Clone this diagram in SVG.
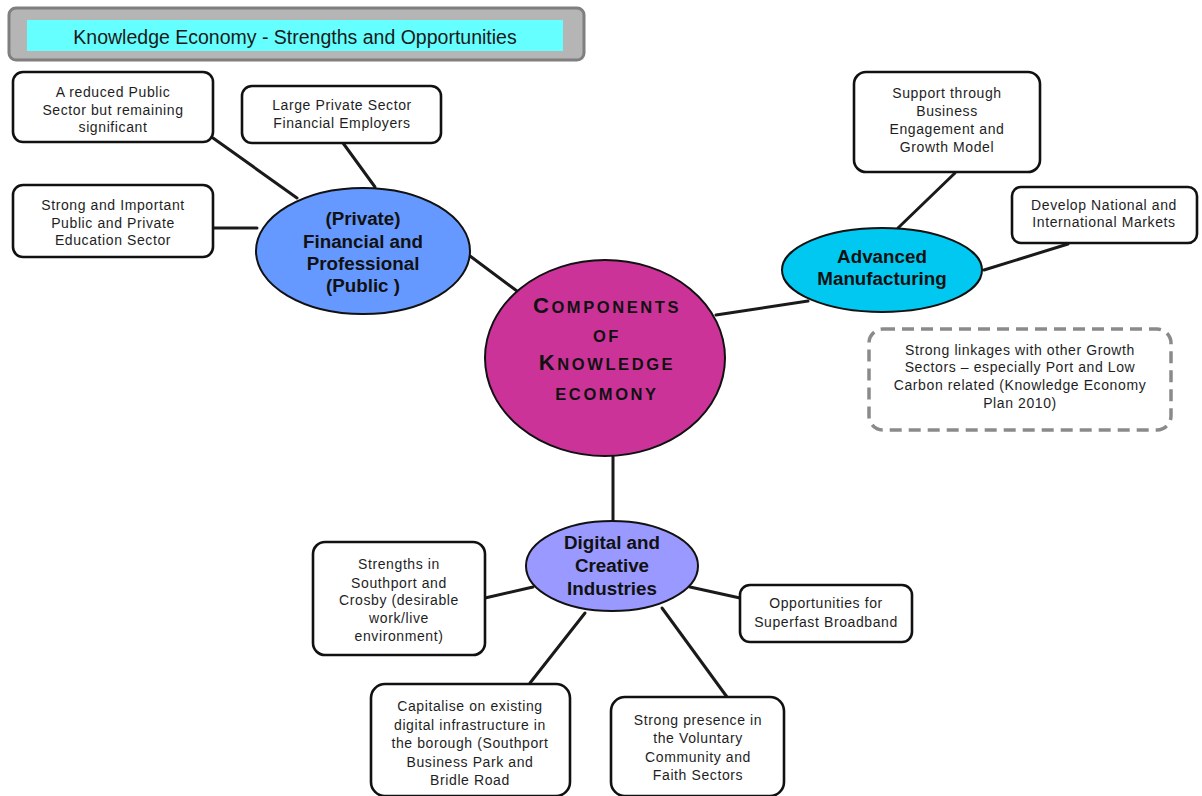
<svg xmlns="http://www.w3.org/2000/svg" width="1202" height="796" viewBox="0 0 1202 796">
  <style>
    .box { fill: #ffffff; stroke: #111111; stroke-width: 2.6; }
    .note { fill: #ffffff; stroke: #8a8a8a; stroke-width: 3.5; stroke-dasharray: 12 7; }
    .hub { stroke: #111111; stroke-width: 2; }
    .link { stroke: #1a1a1a; stroke-width: 3; fill: none; stroke-linecap: round; }
    .t { font-family: "Liberation Sans", Arial, sans-serif; font-size: 14px; letter-spacing: 0.6px; fill: #1e1e1e; text-anchor: middle; }
    .h { font-family: "Liberation Sans", Arial, sans-serif; font-size: 18.8px; font-weight: bold; fill: #111111; text-anchor: middle; }
    .c { font-family: "Liberation Sans", Arial, sans-serif; font-size: 16.5px; font-weight: bold; letter-spacing: 2.6px; fill: #111111; text-anchor: middle; }
    .cap { font-size: 22px; }
  </style>

  <!-- heading bar -->
  <g id="title">
    <rect x="9" y="8" width="575" height="52" rx="7" fill="#b5b5b5" stroke="#7f7f7f" stroke-width="3"/>
    <rect x="27" y="20" width="536" height="31" fill="#66ffff"/>
    <text x="295" y="44" font-family="Liberation Sans, Arial, sans-serif" font-size="19.5" fill="#1a1a1a" text-anchor="middle">Knowledge Economy - Strengths and Opportunities</text>
  </g>

  <!-- connectors -->
  <g id="connectors">
    <line class="link" x1="213" y1="138" x2="297" y2="198"/>
    <line class="link" x1="343" y1="143" x2="375" y2="187"/>
    <line class="link" x1="213" y1="228" x2="257" y2="228"/>
    <line class="link" x1="470" y1="256" x2="517" y2="291"/>
    <line class="link" x1="716" y1="315" x2="808" y2="301"/>
    <line class="link" x1="955" y1="173" x2="898" y2="228"/>
    <line class="link" x1="1068" y1="244" x2="984" y2="270"/>
    <line class="link" x1="613" y1="456" x2="613" y2="522"/>
    <line class="link" x1="485" y1="598" x2="533" y2="587"/>
    <line class="link" x1="690" y1="587" x2="740" y2="598"/>
    <line class="link" x1="585" y1="613" x2="530" y2="683"/>
    <line class="link" x1="662" y1="608" x2="727" y2="697"/>
  </g>

  <!-- central hub -->
  <g id="components">
    <ellipse class="hub" cx="605" cy="358" rx="120" ry="98" fill="#cc3399"/>
    <text class="c" x="607" y="313"><tspan class="cap">C</tspan>OMPONENTS</text>
    <text class="c" x="607" y="342">OF</text>
    <text class="c" x="607" y="370"><tspan class="cap">K</tspan>NOWLEDGE</text>
    <text class="c" x="607" y="400">ECOMONY</text>
  </g>

  <!-- financial and professional cluster -->
  <g id="financial">
    <ellipse class="hub" cx="363" cy="251" rx="107" ry="63" fill="#6699ff"/>
    <text class="h" x="363" y="225">(Private)</text>
    <text class="h" x="363" y="248">Financial and</text>
    <text class="h" x="363" y="270">Professional</text>
    <text class="h" x="363" y="292">(Public )</text>
  </g>
  <g id="reduced-public">
    <rect class="box" x="13" y="72" width="200" height="70" rx="10"/>
    <text class="t" x="113" y="97">A reduced Public</text>
    <text class="t" x="113" y="115">Sector but remaining</text>
    <text class="t" x="113" y="132">significant</text>
  </g>
  <g id="private-employers">
    <rect class="box" x="242" y="86" width="199" height="57" rx="10"/>
    <text class="t" x="342" y="110">Large Private Sector</text>
    <text class="t" x="342" y="128">Financial Employers</text>
  </g>
  <g id="education">
    <rect class="box" x="13" y="185" width="200" height="72" rx="10"/>
    <text class="t" x="113" y="210">Strong and Important</text>
    <text class="t" x="113" y="228">Public and Private</text>
    <text class="t" x="113" y="245">Education Sector</text>
  </g>

  <!-- advanced manufacturing cluster -->
  <g id="manufacturing">
    <ellipse class="hub" cx="882" cy="270" rx="100" ry="42" fill="#00c8f0"/>
    <text class="h" x="882" y="263">Advanced</text>
    <text class="h" x="882" y="285">Manufacturing</text>
  </g>
  <g id="business-support">
    <rect class="box" x="854" y="72" width="186" height="100" rx="12"/>
    <text class="t" x="947" y="98">Support through</text>
    <text class="t" x="947" y="116">Business</text>
    <text class="t" x="947" y="134">Engagement and</text>
    <text class="t" x="947" y="152">Growth Model</text>
  </g>
  <g id="markets">
    <rect class="box" x="1012" y="187" width="185" height="56" rx="9"/>
    <text class="t" x="1104" y="210">Develop National and</text>
    <text class="t" x="1104" y="227">International Markets</text>
  </g>
  <g id="linkages">
    <rect class="note" x="869" y="329" width="302" height="101" rx="14"/>
    <text class="t" x="1020" y="355">Strong linkages with other Growth</text>
    <text class="t" x="1020" y="372">Sectors – especially Port and Low</text>
    <text class="t" x="1020" y="390">Carbon related (Knowledge Economy</text>
    <text class="t" x="1020" y="408">Plan 2010)</text>
  </g>

  <!-- digital and creative cluster -->
  <g id="digital">
    <ellipse class="hub" cx="612" cy="566" rx="86" ry="45" fill="#9999ff"/>
    <text class="h" x="612" y="549">Digital and</text>
    <text class="h" x="612" y="572">Creative</text>
    <text class="h" x="612" y="595">Industries</text>
  </g>
  <g id="southport-crosby">
    <rect class="box" x="313" y="542" width="172" height="113" rx="12"/>
    <text class="t" x="399" y="569">Strengths in</text>
    <text class="t" x="399" y="588">Southport and</text>
    <text class="t" x="399" y="605">Crosby (desirable</text>
    <text class="t" x="399" y="623">work/live</text>
    <text class="t" x="399" y="641">environment)</text>
  </g>
  <g id="broadband">
    <rect class="box" x="740" y="585" width="172" height="57" rx="10"/>
    <text class="t" x="826" y="608">Opportunities for</text>
    <text class="t" x="826" y="627">Superfast Broadband</text>
  </g>
  <g id="infrastructure">
    <rect class="box" x="371" y="684" width="199" height="112" rx="14"/>
    <text class="t" x="470" y="711">Capitalise on existing</text>
    <text class="t" x="470" y="730">digital infrastructure in</text>
    <text class="t" x="470" y="748">the borough (Southport</text>
    <text class="t" x="470" y="767">Business Park and</text>
    <text class="t" x="470" y="785">Bridle Road</text>
  </g>
  <g id="voluntary">
    <rect class="box" x="611" y="697" width="173" height="99" rx="14"/>
    <text class="t" x="698" y="725">Strong presence in</text>
    <text class="t" x="698" y="743">the Voluntary</text>
    <text class="t" x="698" y="762">Community and</text>
    <text class="t" x="698" y="780">Faith Sectors</text>
  </g>
</svg>
